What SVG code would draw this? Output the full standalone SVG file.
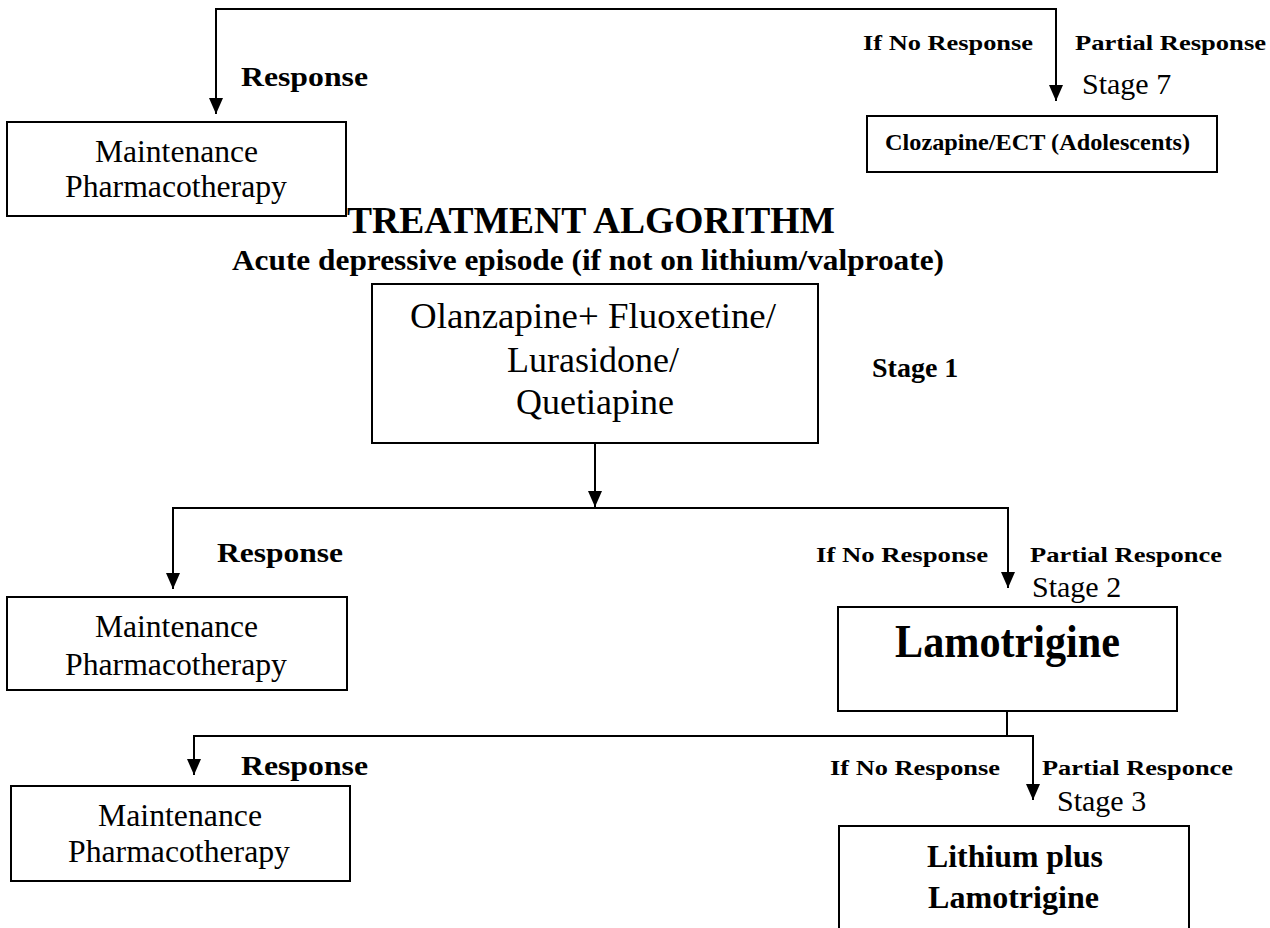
<svg xmlns="http://www.w3.org/2000/svg" width="1270" height="928" viewBox="0 0 1270 928">
<defs>
<marker id="arr" viewBox="0 0 16 14" refX="16" refY="7" markerWidth="16" markerHeight="14" markerUnits="userSpaceOnUse" orient="auto">
<path d="M0,0 L16,7 L0,14 z" fill="#000"/>
</marker>
<style>
.box{fill:#fff;stroke:#000;stroke-width:2}
.ln{fill:none;stroke:#000;stroke-width:2}
.ar{fill:none;stroke:#000;stroke-width:2;marker-end:url(#arr)}
text{font-family:"Liberation Serif","Times New Roman",serif;fill:#000}
.r{font-size:31px}
.b{font-weight:bold}
.lbl{font-size:22px;font-weight:bold}
.resp{font-size:28px;font-weight:bold}
.stg{font-size:30px}
</style>
</defs>
<rect width="1270" height="928" fill="#fff"/>

<g id="connectors">
<path class="ar" d="M636,9 L216,9 L216,114"/>
<path class="ar" d="M636,9 L1056,9 L1056,101"/>
<path class="ar" d="M595,443 L595,507"/>
<path class="ar" d="M595,508 L173,508 L173,589"/>
<path class="ar" d="M595,508 L1008,508 L1008,588"/>
<path class="ln" d="M1007,711 L1007,736"/>
<path class="ar" d="M1007,736 L194,736 L194,775"/>
<path class="ar" d="M1007,736 L1033,736 L1033,800"/>
</g>

<g id="labels">
<text class="resp" x="241" y="86" textLength="127" lengthAdjust="spacingAndGlyphs">Response</text>
<text class="lbl" x="863" y="50" textLength="170" lengthAdjust="spacingAndGlyphs">If No Response</text>
<text class="lbl" x="1075" y="50" textLength="191" lengthAdjust="spacingAndGlyphs">Partial Response</text>
<text class="stg" x="1082" y="94">Stage 7</text>
<text class="b" x="591" y="233" font-size="37" text-anchor="middle" textLength="488" lengthAdjust="spacingAndGlyphs">TREATMENT ALGORITHM</text>
<text class="b" x="588" y="270" font-size="29" text-anchor="middle" textLength="712" lengthAdjust="spacingAndGlyphs">Acute depressive episode (if not on lithium/valproate)</text>
<text class="b" x="872" y="377" font-size="28">Stage 1</text>
<text class="resp" x="217" y="562" textLength="126" lengthAdjust="spacingAndGlyphs">Response</text>
<text class="lbl" x="816" y="562" textLength="172" lengthAdjust="spacingAndGlyphs">If No Response</text>
<text class="lbl" x="1030" y="562" textLength="192" lengthAdjust="spacingAndGlyphs">Partial Responce</text>
<text class="stg" x="1032" y="597">Stage 2</text>
<text class="resp" x="241" y="775" textLength="127" lengthAdjust="spacingAndGlyphs">Response</text>
<text class="lbl" x="830" y="775" textLength="170" lengthAdjust="spacingAndGlyphs">If No Response</text>
<text class="lbl" x="1042" y="775" textLength="191" lengthAdjust="spacingAndGlyphs">Partial Responce</text>
<text class="stg" x="1057" y="811">Stage 3</text>
</g>

<g id="maint1">
<rect class="box" x="7" y="122" width="339" height="94"/>
<text class="r" x="95" y="162" textLength="163" lengthAdjust="spacingAndGlyphs">Maintenance</text>
<text class="r" x="65" y="197" textLength="222" lengthAdjust="spacingAndGlyphs">Pharmacotherapy</text>
</g>

<g id="clozapine">
<rect class="box" x="867" y="116" width="350" height="56"/>
<text class="b" x="885" y="150" font-size="23" textLength="305" lengthAdjust="spacingAndGlyphs">Clozapine/ECT (Adolescents)</text>
</g>

<g id="stage1">
<rect class="box" x="372" y="284" width="446" height="159"/>
<text x="593" y="328" font-size="36" text-anchor="middle" textLength="366" lengthAdjust="spacingAndGlyphs">Olanzapine+ Fluoxetine/</text>
<text x="593" y="372" font-size="36" text-anchor="middle">Lurasidone/</text>
<text x="595" y="414" font-size="36" text-anchor="middle">Quetiapine</text>
</g>

<g id="maint2">
<rect class="box" x="7" y="597" width="340" height="93"/>
<text class="r" x="95" y="637" textLength="163" lengthAdjust="spacingAndGlyphs">Maintenance</text>
<text class="r" x="65" y="675" textLength="222" lengthAdjust="spacingAndGlyphs">Pharmacotherapy</text>
</g>

<g id="lamotrigine">
<rect class="box" x="838" y="607" width="339" height="104"/>
<text class="b" x="895" y="657" font-size="46" textLength="225" lengthAdjust="spacingAndGlyphs">Lamotrigine</text>
</g>

<g id="maint3">
<rect class="box" x="11" y="786" width="339" height="95"/>
<text class="r" x="98" y="826" textLength="164" lengthAdjust="spacingAndGlyphs">Maintenance</text>
<text class="r" x="68" y="862" textLength="222" lengthAdjust="spacingAndGlyphs">Pharmacotherapy</text>
</g>

<g id="stage3">
<rect class="box" x="839" y="826" width="350" height="120"/>
<text class="b" x="927" y="867" font-size="31" textLength="176" lengthAdjust="spacingAndGlyphs">Lithium plus</text>
<text class="b" x="928" y="908" font-size="31" textLength="171" lengthAdjust="spacingAndGlyphs">Lamotrigine</text>
</g>
</svg>
